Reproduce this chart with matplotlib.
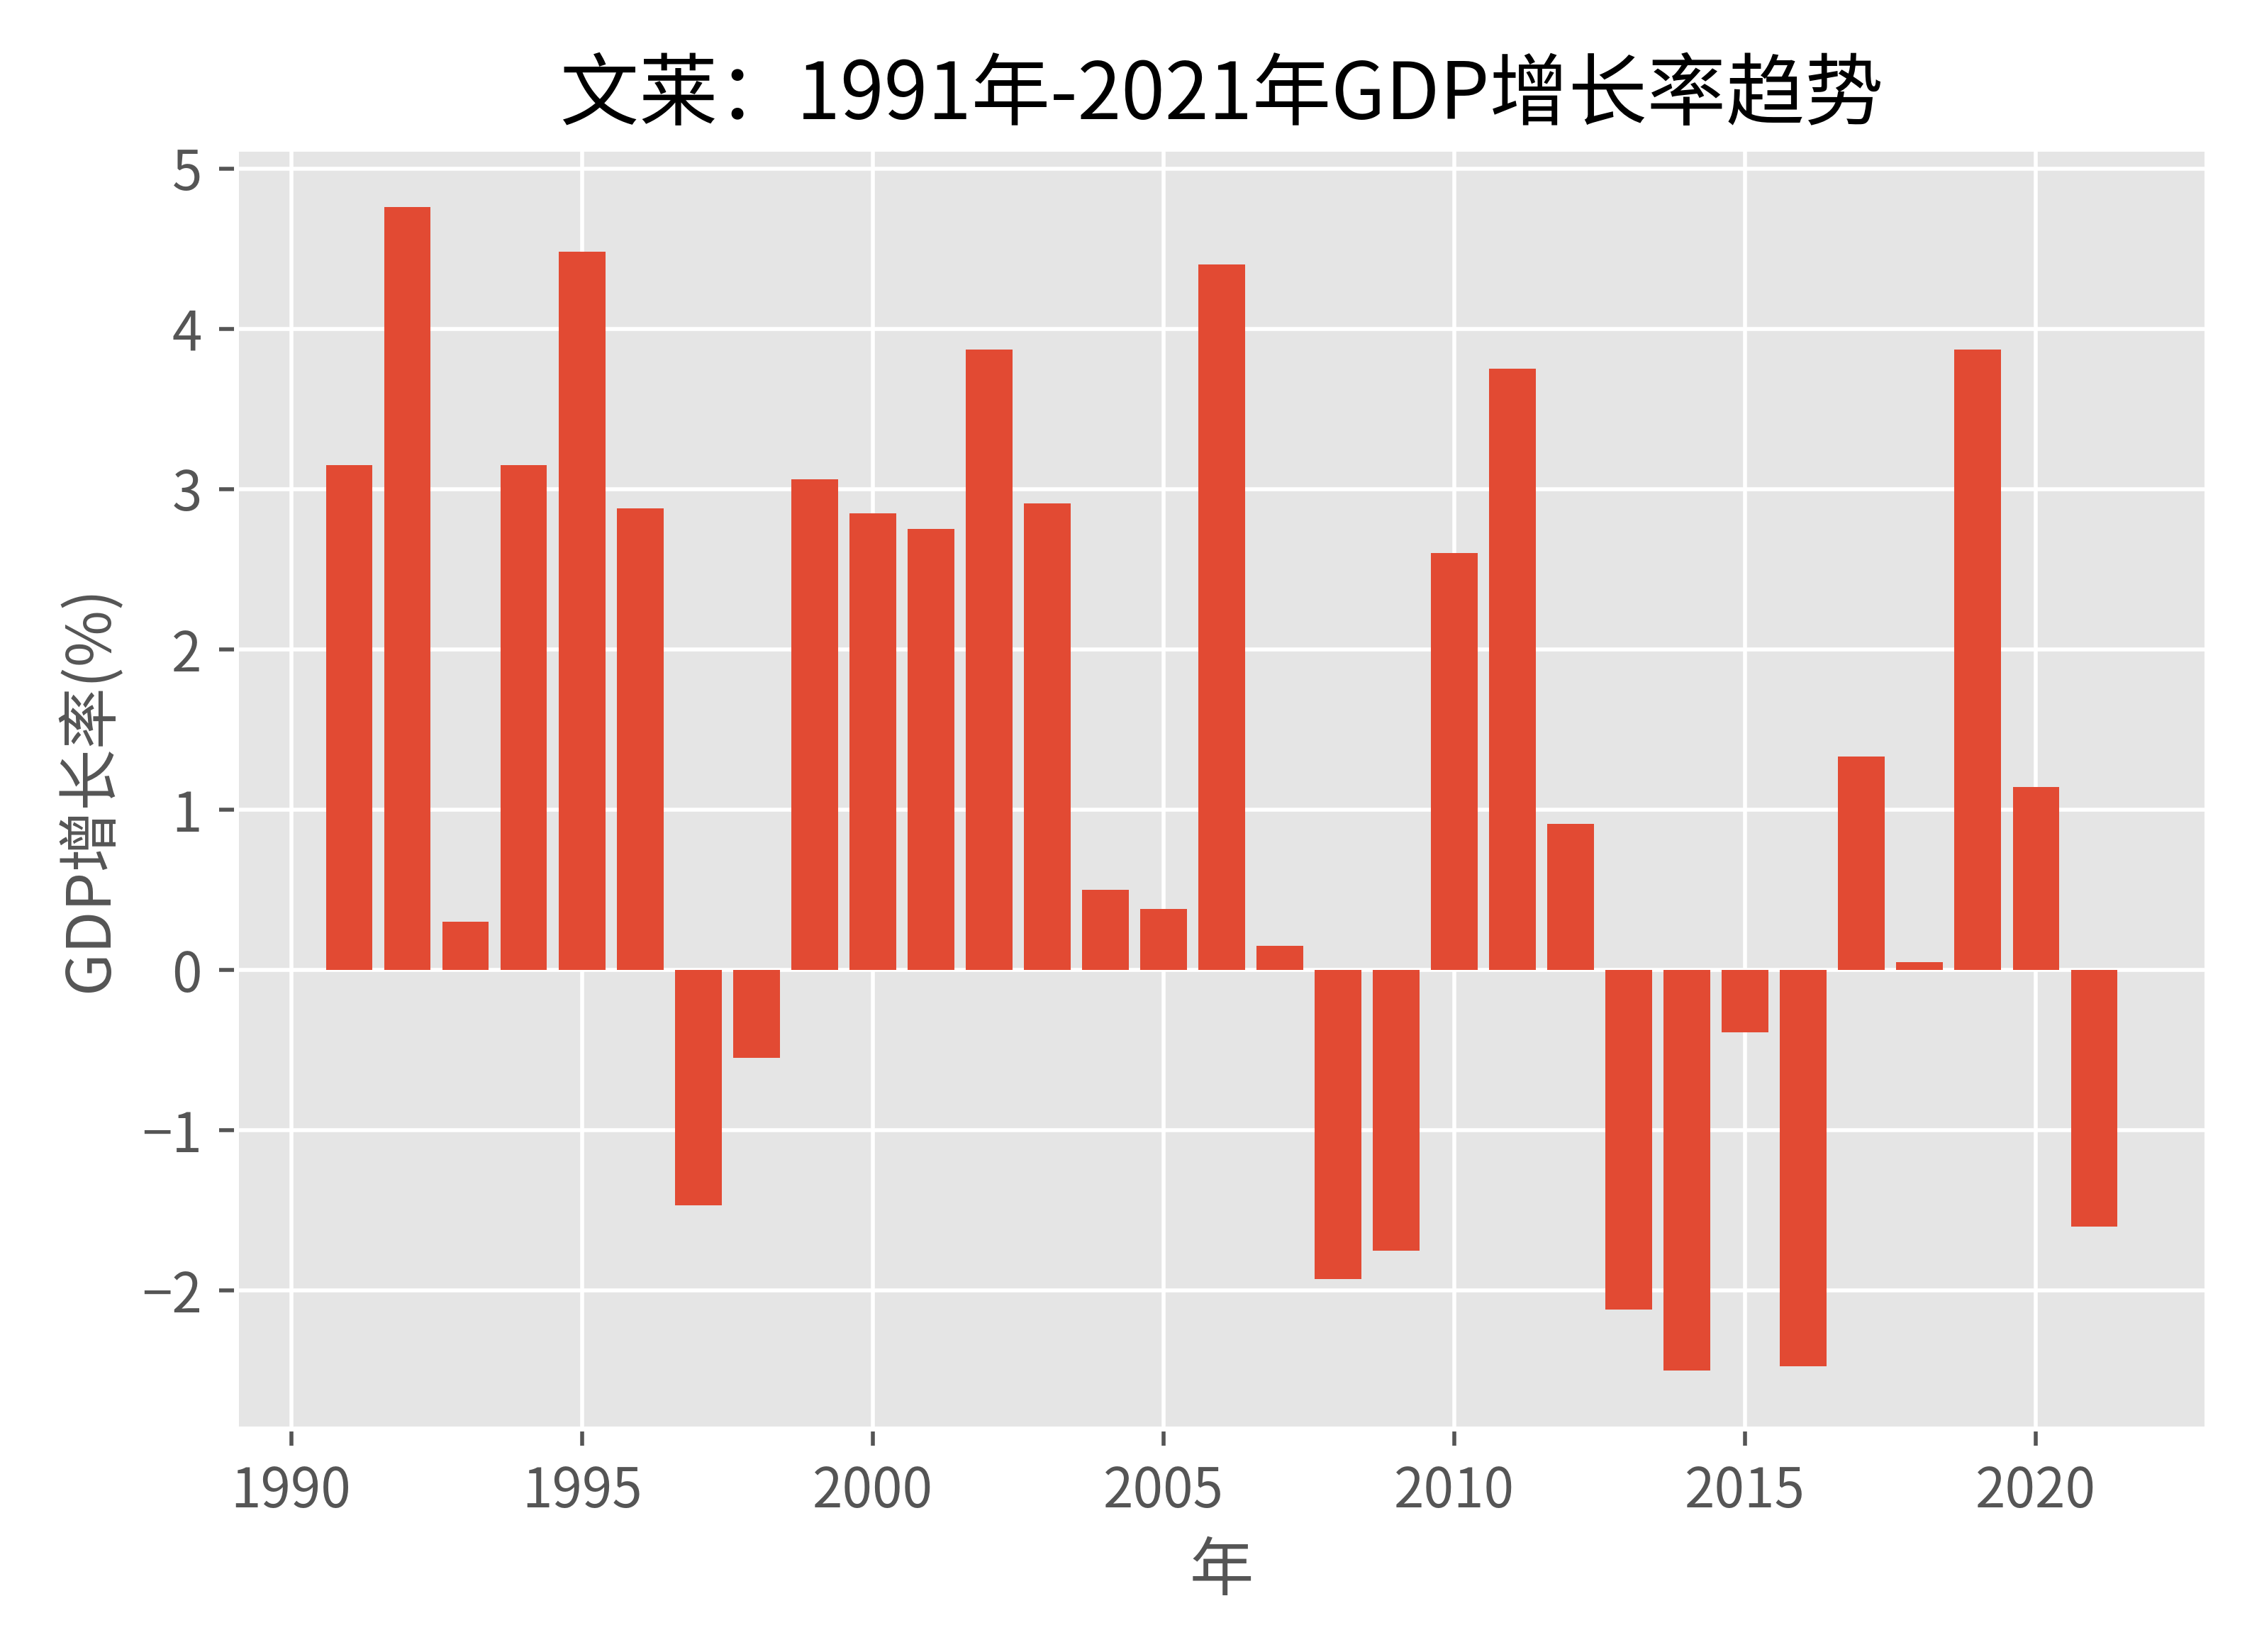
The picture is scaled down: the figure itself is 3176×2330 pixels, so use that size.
import numpy as np
import matplotlib
matplotlib.use("Agg")
import matplotlib.pyplot as plt

plt.style.use("ggplot")
plt.rcParams['font.family'] = ['Noto Sans CJK SC', 'DejaVu Sans']
plt.rcParams['axes.unicode_minus'] = True

TITLE = "文莱：1991年-2021年GDP增长率趋势"
XLABEL = "年"
YLABEL = "GDP增长率(%)"

years = list(range(1991, 2022))
growth = [3.15, 4.76, 0.30, 3.15, 4.48, 2.88, -1.47, -0.55, 3.06, 2.85,
          2.75, 3.87, 2.91, 0.50, 0.38, 4.40, 0.15, -1.93, -1.75, 2.60,
          3.75, 0.91, -2.12, -2.50, -0.39, -2.47, 1.33, 0.05, 3.87, 1.14,
          -1.60]


def main():
    fig, ax = plt.subplots(figsize=(6.352, 4.66), dpi=500)
    ax.bar(years, growth, color="#E24A33")
    ax.set_title(TITLE, fontsize=16, color="black")
    ax.set_xlabel(XLABEL, fontsize=13)
    ax.set_ylabel(YLABEL, fontsize=12.5)
    ax.tick_params(labelsize=11)
    fig.subplots_adjust(left=0.105, right=0.98, top=0.91, bottom=0.135)
    fig.savefig("out.png", dpi=500)


if __name__ == "__main__":
    main()
